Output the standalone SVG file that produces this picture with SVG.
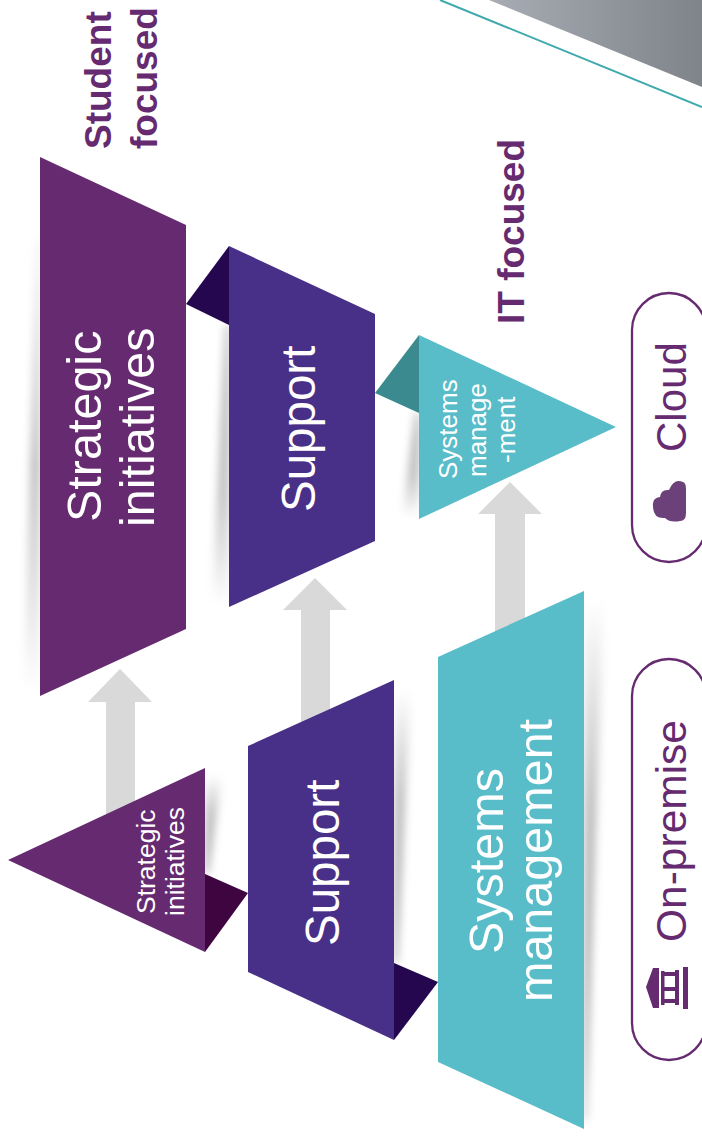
<svg xmlns="http://www.w3.org/2000/svg" width="702" height="1139" viewBox="0 0 702 1139">
<style>
.t{font-family:"Liberation Sans",Arial,sans-serif;fill:#fff}
.b{font-family:"Liberation Sans",Arial,sans-serif;font-weight:bold;fill:#662a70}
.l{font-family:"Liberation Sans",Arial,sans-serif;fill:#662a70}
.pur{fill:#662a70}.ind{fill:#482f87}.tea{fill:#58bcc9}.arr{fill:#d9d9d9}
.sd{fill:url(#fadeDown);filter:url(#blur)}
.su{fill:url(#fadeUp);filter:url(#blur)}
.sm{fill:url(#fadeMid);filter:url(#blur)}
.pill{fill:none;stroke:#662a70;stroke-width:2.3}
</style>
<defs>
<filter id="blur" x="-150%" y="-10%" width="400%" height="120%"><feGaussianBlur stdDeviation="4.5"/></filter>
<linearGradient id="grey" x1="0" y1="0" x2="1" y2="0"><stop offset="0" stop-color="#a8acb4"/><stop offset="1" stop-color="#7f838a"/></linearGradient>
<linearGradient id="fadeDown" x1="0" y1="0" x2="0" y2="1"><stop offset="0" stop-color="#000" stop-opacity=".38"/><stop offset=".6" stop-color="#000" stop-opacity=".24"/><stop offset="1" stop-color="#000" stop-opacity="0"/></linearGradient>
<linearGradient id="fadeUp" x1="0" y1="1" x2="0" y2="0"><stop offset="0" stop-color="#000" stop-opacity=".38"/><stop offset=".6" stop-color="#000" stop-opacity=".24"/><stop offset="1" stop-color="#000" stop-opacity="0"/></linearGradient>
<linearGradient id="fadeMid" x1="0" y1="0" x2="0" y2="1"><stop offset="0" stop-color="#000" stop-opacity=".08"/><stop offset=".5" stop-color="#000" stop-opacity=".26"/><stop offset="1" stop-color="#000" stop-opacity="0"/></linearGradient>
</defs>
<rect width="702" height="1139" fill="#fff"/>
<g id="corner">
<polygon points="489,0 702,87 702,0" fill="url(#grey)"/>
<line x1="440" y1="0" x2="702" y2="107" stroke="#3fa9ad" stroke-width="2"/>
</g>
<g id="connectors">
<polygon class="arr" points="120,669 152,702 135,702 135,820 106,820 106,702 88,702"/>
<polygon class="arr" points="315,578 347,610 330,610 330,730 301,730 301,610 283,610"/>
<polygon class="arr" points="510,482 542,514 525,514 525,640 495,640 495,514 478,514"/>
</g>
<g id="shadows">
<polygon class="sm" points="40,240 40,690 24,690 37,240"/>
<polygon class="sd" points="229,325 229,605 212,605 226,325"/>
<polygon class="sd" points="419,413 419,517 402,517 416,413"/>
<polygon class="su" points="205,874 205,775 222,775 208,874"/>
<polygon class="su" points="394,963 394,690 411,690 397,963"/>
<polygon class="su" points="584,1120 584,600 604,600 586,1120"/>
</g>
<g id="node-strategic-cloud">
<polygon class="pur" points="40,157 186,225 186,629 40,696"/>
<text class="t" font-size="48.5" transform="translate(101,522) rotate(-90)">Strategic</text>
<text class="t" font-size="48.5" transform="translate(153.5,527) rotate(-90)">initiatives</text>
</g>
<g id="node-support-cloud">
<polygon points="186,304 229,246 229,325" fill="#24074f"/>
<polygon class="ind" points="229,246 375,314 375,541 229,607"/>
<text class="t" font-size="47.5" transform="translate(315,512) rotate(-90)">Support</text>
</g>
<g id="node-systems-cloud">
<polygon points="375,393 419,335 419,413" fill="#3b8a8f"/>
<polygon class="tea" points="419,335 616,427 419,519"/>
<text class="t" font-size="26" transform="translate(456.5,479) rotate(-90)">Systems</text>
<text class="t" font-size="26" transform="translate(485.5,477) rotate(-90)">manage</text>
<text class="t" font-size="26" transform="translate(514.5,463) rotate(-90)">-ment</text>
</g>
<g id="node-strategic-onprem">
<polygon points="205,874 248,893 205,952" fill="#3f0540"/>
<polygon class="pur" points="8,860 205,768 205,952"/>
<text class="t" font-size="26.5" transform="translate(155,914) rotate(-90)">Strategic</text>
<text class="t" font-size="26.5" transform="translate(184,916) rotate(-90)">initiatives</text>
</g>
<g id="node-support-onprem">
<polygon points="394,963 438,982 394,1040" fill="#24074f"/>
<polygon class="ind" points="248,746 394,680 394,1040 248,972"/>
<text class="t" font-size="47.5" transform="translate(338.5,946) rotate(-90)">Support</text>
</g>
<g id="node-systems-onprem">
<polygon class="tea" points="438,657 584,591 584,1129 438,1062"/>
<text class="t" font-size="48.5" transform="translate(502.5,954) rotate(-90)">Systems</text>
<text class="t" font-size="48.5" transform="translate(552,1002) rotate(-90)">management</text>
</g>
<g id="label-student">
<text class="b" font-size="37" transform="translate(111,149) rotate(-90)">Student</text>
<text class="b" font-size="37" transform="translate(157,149) rotate(-90)">focused</text>
</g>
<g id="label-it">
<text class="b" font-size="37" transform="translate(524,324) rotate(-90)">IT focused</text>
</g>
<g id="pill-cloud">
<rect class="pill" x="632" y="293" width="74" height="269" rx="37"/>
<text class="l" font-size="42" transform="translate(686,452) rotate(-90)">Cloud</text>
<path d="M653,507 Q652,499 660,498 Q661,490 669,491 Q674,479 683,483 Q686,484 686,490 V514 Q686,522 680,522 Q670,524 665,519 Q653,520 653,507Z" fill="#6c4079" transform="translate(0,-1)"/>
</g>
<g id="pill-onprem">
<rect class="pill" x="632" y="659" width="74" height="401" rx="37"/>
<text class="l" font-size="42.5" transform="translate(686,942) rotate(-90)">On-premise</text>
<g fill="#662a70">
<polygon points="646,987 653,968 659,968 659,1008 653,1008"/>
<rect x="661" y="971" width="3.5" height="34"/>
<rect x="664" y="972" width="12" height="4"/>
<rect x="664" y="987" width="12" height="4"/>
<rect x="664" y="999" width="12" height="4"/>
<rect x="675" y="970" width="4" height="35"/>
<rect x="683" y="967" width="5" height="42"/>
</g>
</g>
</svg>
